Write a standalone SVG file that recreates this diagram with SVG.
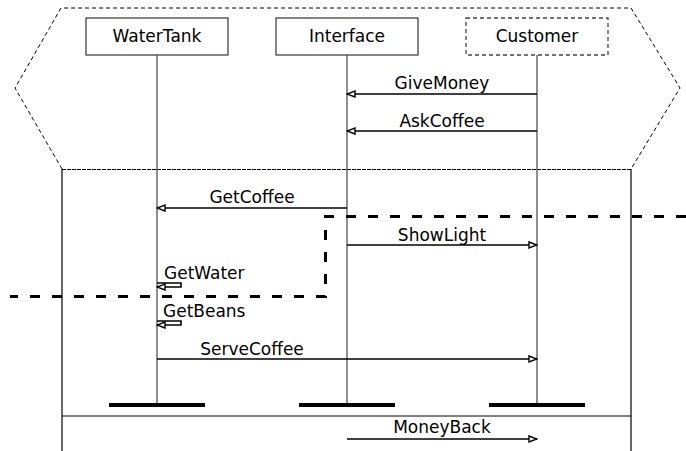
<svg xmlns="http://www.w3.org/2000/svg" width="686" height="451" viewBox="0 0 686 451">
<style>
text{font-family:"DejaVu Sans",sans-serif;font-size:17px;fill:#000}
.box{fill:#fff;stroke:#444;stroke-width:1.3}
.life{stroke:#444;stroke-width:1.2;fill:none}
.msg{stroke:#000;stroke-width:1.6;fill:none}
.bar{stroke:#000;stroke-width:4}
.frag{fill:none;stroke:#000;stroke-width:1.2}
</style>
<defs>
<marker id="ah" viewBox="0 0 10 8" refX="9" refY="4" markerWidth="10" markerHeight="8" markerUnits="userSpaceOnUse" orient="auto">
<path d="M1,1 L9,4 L1,7 Z" fill="#fff" stroke="#000" stroke-width="1.4"/>
</marker>
</defs>
<rect width="686" height="451" fill="#fff"/>
<g id="frame">
<path d="M62,169 L15,88 L61,8 L631,8 L680,88 L631,169" fill="none" stroke="#000" stroke-width="1" stroke-dasharray="4,3"/>
<line x1="62" y1="169.5" x2="631" y2="169.5" stroke="#000" stroke-width="1" stroke-dasharray="4,1"/>
<line x1="62" y1="169" x2="62" y2="451" class="frag"/>
<line x1="631" y1="169" x2="631" y2="451" class="frag"/>
<line x1="62" y1="416" x2="631" y2="416" class="frag"/>
</g>
<g id="WaterTank">
<rect x="86" y="18" width="142" height="37" class="box"/>
<text x="157" y="42" text-anchor="middle">WaterTank</text>
</g>
<g id="Interface">
<rect x="276" y="18" width="142" height="37" class="box"/>
<text x="347" y="42" text-anchor="middle">Interface</text>
</g>
<g id="Customer">
<rect x="466" y="18" width="142" height="37" class="box" stroke-dasharray="4,3"/>
<text x="537" y="42" text-anchor="middle">Customer</text>
</g>
<g id="lifelines">
<line x1="157" y1="55" x2="157" y2="405" class="life"/>
<line x1="347" y1="55" x2="347" y2="405" class="life"/>
<line x1="537" y1="55" x2="537" y2="405" class="life"/>
<line x1="109" y1="405" x2="205" y2="405" class="bar"/>
<line x1="299" y1="405" x2="395" y2="405" class="bar"/>
<line x1="489" y1="405" x2="585" y2="405" class="bar"/>
</g>
<g id="connectors">
<line x1="537" y1="94" x2="347" y2="94" class="msg" marker-end="url(#ah)"/>
<text x="442" y="89" text-anchor="middle">GiveMoney</text>
<line x1="537" y1="131" x2="347" y2="131" class="msg" marker-end="url(#ah)"/>
<text x="442" y="127" text-anchor="middle">AskCoffee</text>
<line x1="347" y1="208" x2="157" y2="208" class="msg" marker-end="url(#ah)"/>
<text x="252" y="203" text-anchor="middle">GetCoffee</text>
<line x1="347" y1="245" x2="537" y2="245" class="msg" marker-end="url(#ah)"/>
<text x="442" y="241" text-anchor="middle">ShowLight</text>
<path d="M157,283 L181,283 L181,287 L157,287" class="msg" marker-end="url(#ah)"/>
<text x="164" y="279">GetWater</text>
<path d="M157,321 L181,321 L181,325 L157,325" class="msg" marker-end="url(#ah)"/>
<text x="163" y="317">GetBeans</text>
<line x1="157" y1="359" x2="537" y2="359" class="msg" marker-end="url(#ah)"/>
<text x="252" y="355" text-anchor="middle">ServeCoffee</text>
<line x1="347" y1="439" x2="537" y2="439" class="msg" marker-end="url(#ah)"/>
<text x="442" y="433" text-anchor="middle">MoneyBack</text>
</g>
<g id="cut">
<path d="M686,216.5 L325.5,216.5 L325.5,296.5 L10,296.5" fill="none" stroke="#000" stroke-width="3" stroke-dasharray="10,12"/>
</g>
</svg>
